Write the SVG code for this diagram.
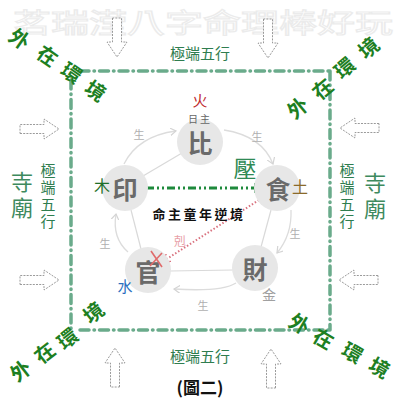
<svg xmlns="http://www.w3.org/2000/svg" width="401" height="401" viewBox="0 0 401 401">
<defs>
<style>
text{font-family:"Noto Sans CJK TC","Noto Sans CJK SC",sans-serif;text-anchor:middle;dominant-baseline:central}
.vert{writing-mode:vertical-rl}
.frame{fill:none;stroke:#6aab8b;stroke-width:3.5;stroke-linecap:round;stroke-dasharray:9 5 0.5 5}
.hollow{fill:#fff;stroke:#9a9a9a;stroke-width:1;stroke-dasharray:2 1.2}
.ext{font-size:15px;fill:#2f7d4f}
.temple{font-size:22px;fill:#3e8a5e}
.env{font-size:20px;font-weight:bold;fill:#1d7f22}
.node circle{fill:#e7e7e7}
.node .c{font-size:25px;font-weight:bold;fill:#6a6a6a}
.sheng{font-size:11px;fill:#b0b0b0}
.edge{fill:none;stroke:#d9d9d9;stroke-width:1.2}
.cyc{fill:none;stroke:#dcdcdc;stroke-width:1.3;marker-end:url(#ga)}
</style>
<path id="harrow" d="M-4.5,0 V24 H-10 L0,39 L10,24 H4.5 V0 Z"/>
<marker id="ga" markerWidth="8" markerHeight="8" refX="6" refY="4" orient="auto" markerUnits="userSpaceOnUse"><path d="M0,0 L6,4 L0,8" fill="none" stroke="#d4d4d4" stroke-width="1.2"/></marker>
<marker id="green" markerWidth="10" markerHeight="10" refX="9" refY="5" orient="auto" markerUnits="userSpaceOnUse"><path d="M0,0 L10,5 L0,10 Z" fill="#1e8a3c"/></marker>
<marker id="red" markerWidth="9" markerHeight="9" refX="8" refY="4.5" orient="auto" markerUnits="userSpaceOnUse"><path d="M0,0 L8,4.5 L0,9" fill="none" stroke="#d9727f" stroke-width="1.3"/></marker>
</defs>
<rect width="401" height="401" fill="#fff"/>
<text x="203" y="21" font-size="27" fill="#fff" stroke="#ebebeb" stroke-width="1.2" textLength="380" lengthAdjust="spacingAndGlyphs">茗瑞滢八字命理棒好玩</text>

<g id="frame">
<line class="frame" x1="80" y1="71" x2="330" y2="71"/>
<line class="frame" x1="71" y1="80" x2="71" y2="330"/>
<line class="frame" x1="330" y1="71" x2="330" y2="330"/>
<line class="frame" x1="80" y1="330" x2="330" y2="330"/>
</g>

<g id="hollow-arrows">
<use href="#harrow" class="hollow" transform="translate(117,18)"/>
<use href="#harrow" class="hollow" transform="translate(268,19)"/>
<use href="#harrow" class="hollow" transform="translate(20,129) rotate(-90)"/>
<use href="#harrow" class="hollow" transform="translate(20,280) rotate(-90)"/>
<use href="#harrow" class="hollow" transform="translate(379,128) rotate(90)"/>
<use href="#harrow" class="hollow" transform="translate(378,280) rotate(90)"/>
<use href="#harrow" class="hollow" transform="translate(115,387) rotate(180)"/>
<use href="#harrow" class="hollow" transform="translate(271,388) rotate(180)"/>
</g>

<g id="labels-ext">
<text class="ext" x="200" y="52">極端五行</text>
<text class="ext" x="200" y="355">極端五行</text>
<text class="ext vert" x="48" y="197" letter-spacing="2">極端五行</text>
<text class="ext vert" x="347" y="197" letter-spacing="2">極端五行</text>
<text class="temple vert" x="22" y="197" letter-spacing="4">寺廟</text>
<text class="temple vert" x="375" y="198" letter-spacing="4">寺廟</text>
</g>

<g id="env">
<text class="env" transform="translate(20,38) rotate(35)">外</text>
<text class="env" transform="translate(48,55) rotate(35)">在</text>
<text class="env" transform="translate(72,72) rotate(35)">環</text>
<text class="env" transform="translate(96,90) rotate(35)">境</text>
<text class="env" transform="translate(297,107) rotate(-40)">外</text>
<text class="env" transform="translate(322,88) rotate(-40)">在</text>
<text class="env" transform="translate(344,67) rotate(-40)">環</text>
<text class="env" transform="translate(368,47) rotate(-40)">境</text>
<text class="env" transform="translate(20,370) rotate(-38)">外</text>
<text class="env" transform="translate(44,352) rotate(-38)">在</text>
<text class="env" transform="translate(67,338) rotate(-38)">環</text>
<text class="env" transform="translate(93,312) rotate(-38)">境</text>
<text class="env" transform="translate(300,323) rotate(30)">外</text>
<text class="env" transform="translate(324,338) rotate(30)">在</text>
<text class="env" transform="translate(353,352) rotate(30)">環</text>
<text class="env" transform="translate(380,367) rotate(30)">境</text>
</g>

<g id="connectors">
<line class="edge" x1="143" y1="176" x2="182" y2="153"/>
<line class="edge" x1="131" y1="210" x2="141" y2="249"/>
<line class="edge" x1="271" y1="210" x2="261" y2="247"/>
<line class="edge" x1="170" y1="271" x2="233" y2="270"/>
<path class="cyc" d="M124,164 Q138,136 176,131"/>
<path class="cyc" d="M224,130 Q262,136 273,164"/>
<path class="cyc" d="M291,210 Q292,235 277,253"/>
<path class="cyc" d="M236,283 Q222,292 174,289"/>
<path class="cyc" d="M128,252 Q112,238 116,214"/>
<text class="sheng" x="139" y="134">生</text>
<text class="sheng" x="257" y="136">生</text>
<text class="sheng" x="295" y="233">生</text>
<text class="sheng" x="203" y="305">生</text>
<text class="sheng" x="105" y="243">生</text>
<line x1="146" y1="188" x2="263" y2="188" stroke="#1e8a3c" stroke-width="3" stroke-dasharray="8 3 2 3 2 3" marker-end="url(#green)"/>
<line x1="259" y1="200" x2="162" y2="262" stroke="#d9727f" stroke-width="2" stroke-dasharray="1.5 2" marker-end="url(#red)"/>
</g>

<g id="node-bi" class="node"><circle cx="200" cy="142" r="23"/><text class="c" x="200" y="142">比</text></g>
<g id="node-yin" class="node"><circle cx="125" cy="188" r="23"/><text class="c" x="125" y="188">印</text></g>
<g id="node-shi" class="node"><circle cx="277" cy="188" r="23"/><text class="c" x="278" y="188">食</text></g>
<g id="node-cai" class="node"><circle cx="255" cy="268" r="23"/><text class="c" x="255" y="268">財</text></g>
<g id="node-guan" class="node"><circle cx="148" cy="270" r="23"/><text class="c" x="148" y="271">官</text></g>

<g id="marks">
<path d="M151,251 L162,267 M162,253 L150,266" stroke="#e06a6a" stroke-width="1.6" fill="none"/>
<text x="180" y="240" font-size="12" fill="#e8a0a8">剋</text>
<text x="245" y="167" font-size="23" fill="#2f8a55">壓</text>
<text x="199" y="213" font-size="13" font-weight="bold" fill="#111" letter-spacing="2.5">命主童年逆境</text>
<text x="200" y="99" font-size="15" fill="#c0282d">火</text>
<text x="200" y="118" font-size="10" fill="#666" letter-spacing="2">日主</text>
<text x="102" y="185" font-size="16" fill="#1f6f2a">木</text>
<text x="300" y="186" font-size="16" fill="#8a6a2a">土</text>
<text x="269" y="294" font-size="14" fill="#a0a0a0">金</text>
<text x="125" y="285" font-size="15" fill="#2b6fc0">水</text>
<text x="200" y="386" font-size="17" font-weight="bold" fill="#111">(圖二)</text>
</g>
</svg>
